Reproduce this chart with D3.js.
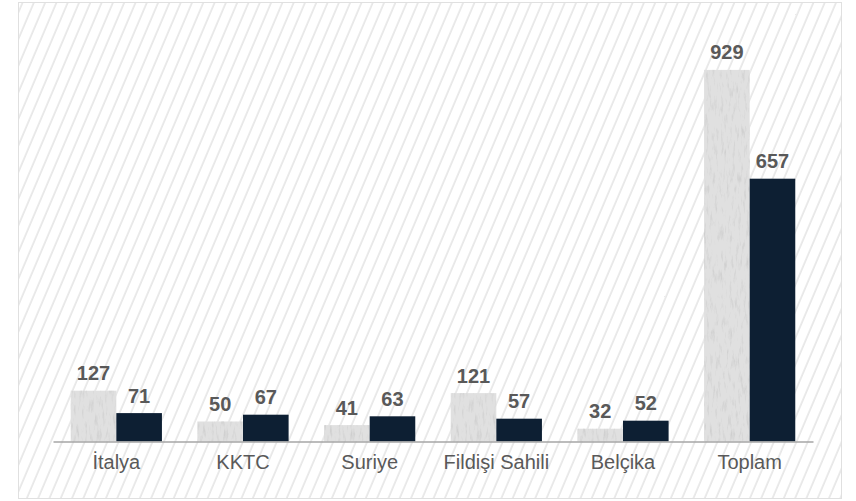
<!DOCTYPE html>
<html>
<head>
<meta charset="utf-8">
<script src="https://cdn.jsdelivr.net/npm/d3@7"></script>
<style>
  html, body { margin: 0; padding: 0; background: #fff; }
  svg { display: block; font-family: "Liberation Sans", Arial, sans-serif; }
</style>
</head>
<body>
<div id="chart"></div>
<script>
// chart values
const categories = ["İtalya", "KKTC", "Suriye", "Fildişi Sahili", "Belçika", "Toplam"];
const seriesA = [127, 50, 41, 121, 32, 929];
const seriesB = [71, 67, 63, 57, 52, 657];

const W = 856, H = 501;
const margin = { left: 53, right: 43, top: 41.5, bottom: 59.5 };
const innerW = W - margin.left - margin.right;
const innerH = H - margin.top - margin.bottom;

const svg = d3.select("#chart").append("svg")
  .attr("width", W)
  .attr("height", H);

const defs = svg.append("defs");

// diagonal hatch background
const hatch = defs.append("pattern")
  .attr("id", "hatch")
  .attr("patternUnits", "userSpaceOnUse")
  .attr("width", 10.4)
  .attr("height", 10.4)
  .attr("patternTransform", "rotate(23)");
hatch.append("line")
  .attr("x1", 1).attr("y1", 0).attr("x2", 1).attr("y2", 10.4)
  .attr("stroke", "#d9d9d9")
  .attr("stroke-width", 1.1);

// concrete-ish texture for the light bars
const f = defs.append("filter")
  .attr("id", "concrete")
  .attr("x", 0).attr("y", 0).attr("width", 1).attr("height", 1);
f.append("feTurbulence")
  .attr("type", "fractalNoise")
  .attr("baseFrequency", "0.35 0.07")
  .attr("numOctaves", 4)
  .attr("seed", 7)
  .attr("result", "noise");
f.append("feColorMatrix")
  .attr("in", "noise")
  .attr("type", "matrix")
  .attr("values", "0 0 0 0 0.6  0 0 0 0 0.6  0 0 0 0 0.6  -2.4 0 0 0 1.15")
  .attr("result", "spots");
f.append("feComposite")
  .attr("in", "spots").attr("in2", "SourceGraphic").attr("operator", "in")
  .attr("result", "clipped");
const merge = f.append("feMerge");
merge.append("feMergeNode").attr("in", "SourceGraphic");
merge.append("feMergeNode").attr("in", "clipped");

// outer frame
svg.append("rect")
  .attr("x", 18.5).attr("y", 2.5)
  .attr("width", 823).attr("height", 496)
  .attr("fill", "url(#hatch)")
  .attr("stroke", "#e0e0e0")
  .attr("stroke-width", 1);

const g = svg.append("g").attr("transform", `translate(${margin.left},${margin.top})`);

const x = d3.scaleBand().domain(categories).range([0, innerW]).paddingInner(0.28).paddingOuter(0.14);
const sub = d3.scaleBand().domain(["a", "b"]).range([0, x.bandwidth()]);
const y = d3.scaleLinear().domain([0, 1000]).range([innerH, 0]);

const rows = categories.map((c, i) => ({ c, a: seriesA[i], b: seriesB[i] }));

const grp = g.selectAll(".cat").data(rows).join("g")
  .attr("class", "cat")
  .attr("transform", d => `translate(${x(d.c)},0)`);

grp.append("rect")
  .attr("x", sub("a"))
  .attr("y", d => y(d.a))
  .attr("width", sub.bandwidth())
  .attr("height", d => innerH - y(d.a))
  .attr("fill", "#e0e0e0")
  .attr("filter", "url(#concrete)");

grp.append("rect")
  .attr("x", sub("b"))
  .attr("y", d => y(d.b))
  .attr("width", sub.bandwidth())
  .attr("height", d => innerH - y(d.b))
  .attr("fill", "#0d1f33");

const labelStyle = sel => sel
  .attr("text-anchor", "middle")
  .attr("font-size", "20px")
  .attr("font-weight", "bold")
  .attr("fill", "#595959");

grp.append("text")
  .attr("x", sub("a") + sub.bandwidth() / 2)
  .attr("y", d => y(d.a) - 10.5)
  .text(d => d.a)
  .call(labelStyle);

grp.append("text")
  .attr("x", sub("b") + sub.bandwidth() / 2)
  .attr("y", d => y(d.b) - 10.5)
  .text(d => d.b)
  .call(labelStyle);

// x axis
const ax = g.append("g")
  .attr("transform", `translate(0,${innerH})`)
  .call(d3.axisBottom(x).tickSize(0).tickPadding(13));
ax.select(".domain").attr("stroke", "#a6a6a6").attr("stroke-width", 1.6);
ax.selectAll("text")
  .attr("font-size", "20px")
  .attr("font-family", "'Liberation Sans', Arial, sans-serif")
  .attr("fill", "#595959");
</script>
</body>
</html>
